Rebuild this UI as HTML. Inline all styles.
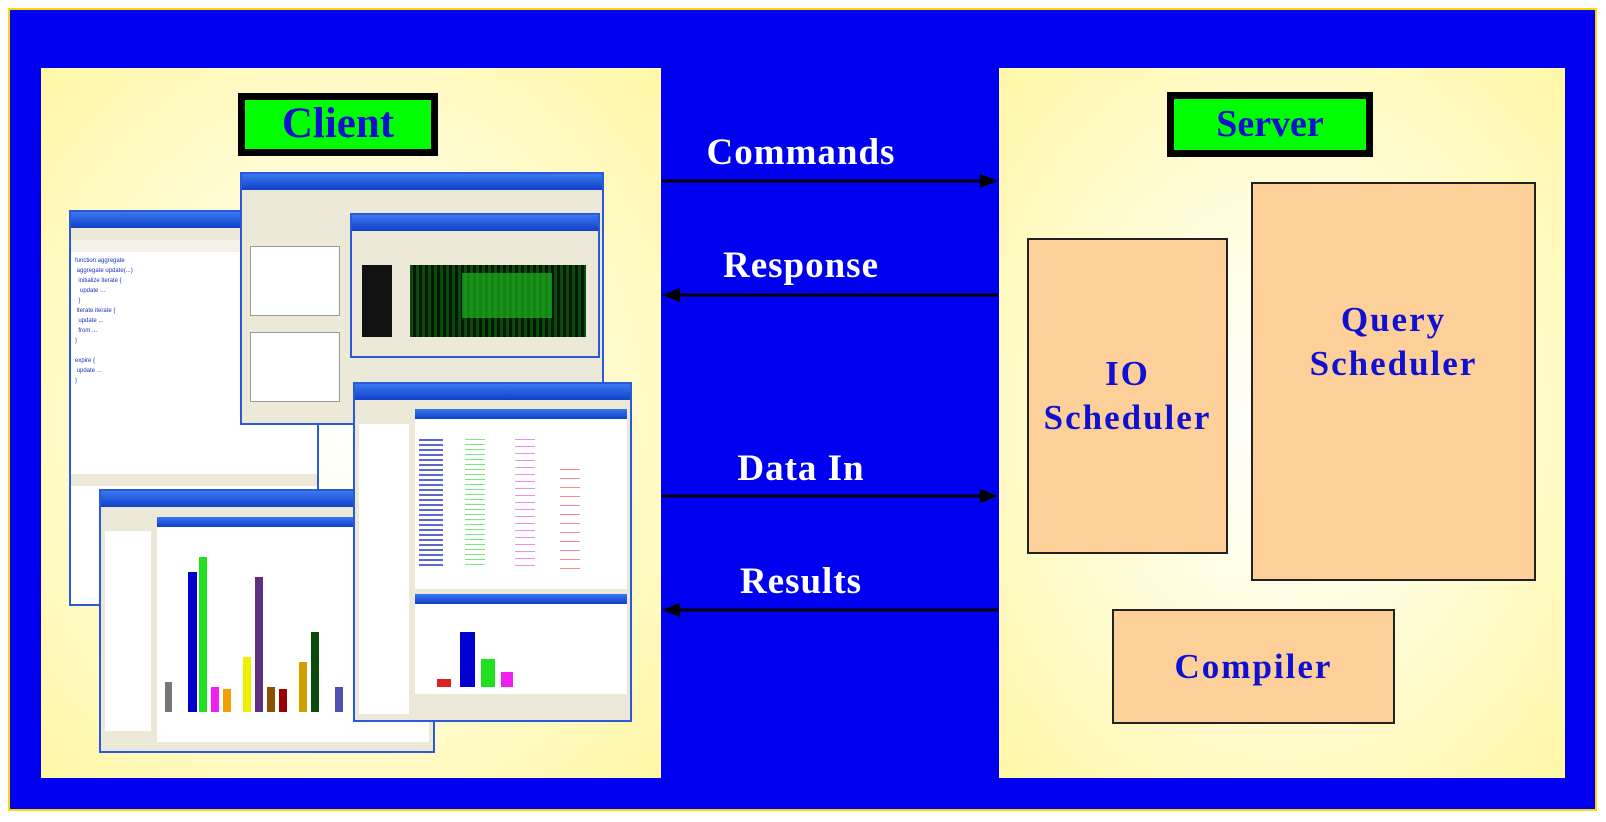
<!DOCTYPE html>
<html><head><meta charset="utf-8"><style>
*{margin:0;padding:0;box-sizing:border-box}
body{width:1606px;height:822px;background:#fff;position:relative;overflow:hidden;font-family:"Liberation Serif",serif}
.a{position:absolute}
.panel{background:radial-gradient(ellipse at 50% 50%,#ffffff 0%,#fffde0 40%,#fff7a6 100%)}
.lbl{background:#00ff00;border:7px solid #000;color:#1010d0;font-weight:bold;text-align:center}
.box{background:#fdd09a;border:2px solid #222;color:#1010d0;font-weight:bold;text-align:center;font-size:35px;letter-spacing:2px;line-height:44px;display:flex;align-items:center;justify-content:center}
.t{color:#fff;font-weight:bold;font-size:37px;letter-spacing:1px;width:340px;text-align:center;left:631px}
.win{background:#fff;border:2px solid #2a5ad8}
.tb{background:linear-gradient(#3a78f0,#1040c8);height:16px}
.mn{background:#ece9d8;height:12px}
</style></head><body>
<div class="a" style="left:8px;top:8px;width:1589px;height:803px;background:#ffd800"></div>
<div class="a" style="left:10px;top:10px;width:1585px;height:799px;background:#0000f0"></div>

<div class="a panel" style="left:41px;top:68px;width:620px;height:710px"></div>
<div class="a panel" style="left:999px;top:68px;width:566px;height:710px"></div>

<div class="a lbl" style="left:238px;top:93px;width:200px;height:63px;font-size:43px;line-height:48px">Client</div>
<div class="a lbl" style="left:1167px;top:92px;width:206px;height:65px;font-size:38px;line-height:50px">Server</div>

<div class="a box" style="left:1027px;top:238px;width:201px;height:316px">IO<br>Scheduler</div>
<div class="a box" style="left:1251px;top:182px;width:285px;height:399px;padding-bottom:80px">Query<br>Scheduler</div>
<div class="a box" style="left:1112px;top:609px;width:283px;height:115px">Compiler</div>

<div class="a t" style="top:131px">Commands</div>
<div class="a t" style="top:244px">Response</div>
<div class="a t" style="top:447px">Data In</div>
<div class="a t" style="top:560px">Results</div>

<svg class="a" style="left:0;top:0" width="1606" height="822">
<g stroke="#000" stroke-width="3" fill="#000">
<line x1="662" y1="181" x2="985" y2="181"/><polygon points="998,181 980,174 980,188" stroke="none"/>
<line x1="675" y1="295" x2="998" y2="295"/><polygon points="662,295 680,288 680,302" stroke="none"/>
<line x1="662" y1="496" x2="985" y2="496"/><polygon points="998,496 980,489 980,503" stroke="none"/>
<line x1="675" y1="610" x2="998" y2="610"/><polygon points="662,610 680,603 680,617" stroke="none"/>
</g></svg>

<div class="a win" style="left:69px;top:210px;width:250px;height:396px">
 <div class="tb"></div><div class="mn"></div><div class="mn" style="background:#f4f2e8"></div>
 <div style="padding:4px;font:6px 'Liberation Sans',sans-serif;color:#2030c0;line-height:10px">function aggregate<br>&nbsp;aggregate update(...)<br>&nbsp;&nbsp;initialize iterate {<br>&nbsp;&nbsp;&nbsp;update ...<br>&nbsp;&nbsp;}<br>&nbsp;iterate iterate {<br>&nbsp;&nbsp;update ...<br>&nbsp;&nbsp;from ...<br>}<br><br>expire {<br>&nbsp;update ...<br>}</div>
 <div class="a" style="left:0;top:262px;width:246px;height:12px;background:#ece9d8"></div>
</div>
<div class="a win" style="left:240px;top:172px;width:364px;height:253px;background:#ece9d8">
 <div class="tb"></div>
 <div class="a" style="left:8px;top:72px;width:90px;height:70px;background:#fff;border:1px solid #999"></div>
 <div class="a" style="left:8px;top:158px;width:90px;height:70px;background:#fff;border:1px solid #999"></div>
</div>
<div class="a win" style="left:350px;top:213px;width:250px;height:145px;background:#ece9d8">
 <div class="tb"></div>
 <div class="a" style="left:10px;top:50px;width:30px;height:72px;background:#111"></div>
 <div class="a" style="left:58px;top:50px;width:176px;height:72px;background:repeating-linear-gradient(90deg,#0a4a0a 0 3px,#001800 3px 6px)"></div>
 <div class="a" style="left:110px;top:58px;width:90px;height:45px;background:#20b020;opacity:.7"></div>
</div>
<div class="a win" style="left:99px;top:489px;width:336px;height:264px;background:#ece9d8">
 <div class="tb"></div>
 <div class="a" style="left:4px;top:40px;width:46px;height:200px;background:#fff"></div>
 <div class="a" style="left:56px;top:26px;width:272px;height:225px;background:#fff">
  <div class="tb" style="height:10px"></div>
  <svg width="272" height="215"><g>
  <rect x="8" y="155" width="7" height="30" fill="#777"/><rect x="31" y="45" width="9" height="140" fill="#0000d0"/>
  <rect x="42" y="30" width="8" height="155" fill="#20e020"/><rect x="54" y="160" width="8" height="25" fill="#f020f0"/>
  <rect x="66" y="162" width="8" height="23" fill="#f0a000"/><rect x="86" y="130" width="8" height="55" fill="#f0f000"/>
  <rect x="98" y="50" width="8" height="135" fill="#603080"/><rect x="110" y="160" width="8" height="25" fill="#8a5000"/>
  <rect x="122" y="162" width="8" height="23" fill="#900"/><rect x="142" y="135" width="8" height="50" fill="#d0a000"/>
  <rect x="154" y="105" width="8" height="80" fill="#0a4a0a"/><rect x="178" y="160" width="8" height="25" fill="#5050b0"/>
  </g></svg>
 </div>
</div>
<div class="a win" style="left:353px;top:382px;width:279px;height:340px;background:#ece9d8">
 <div class="tb"></div>
 <div class="a" style="left:4px;top:40px;width:50px;height:290px;background:#fff"></div>
 <div class="a" style="left:60px;top:25px;width:212px;height:180px;background:#fff">
  <div class="tb" style="height:10px"></div>
  <div class="a" style="left:4px;top:30px;width:24px;height:130px;background:repeating-linear-gradient(#3040d0 0 2px,#fff 2px 5px);opacity:.8"></div>
  <div class="a" style="left:50px;top:30px;width:20px;height:130px;background:repeating-linear-gradient(#40e040 0 1px,#fff 1px 5px);opacity:.7"></div>
  <div class="a" style="left:100px;top:30px;width:20px;height:130px;background:repeating-linear-gradient(#e040e0 0 1px,#fff 1px 7px);opacity:.6"></div>
  <div class="a" style="left:145px;top:60px;width:20px;height:100px;background:repeating-linear-gradient(#f04040 0 1px,#fff 1px 9px);opacity:.6"></div>
 </div>
 <div class="a" style="left:60px;top:210px;width:212px;height:100px;background:#fff">
  <div class="tb" style="height:10px"></div>
  <div class="a" style="left:45px;top:38px;width:15px;height:55px;background:#0000d0"></div>
  <div class="a" style="left:66px;top:65px;width:14px;height:28px;background:#20e020"></div>
  <div class="a" style="left:86px;top:78px;width:12px;height:15px;background:#f020f0"></div>
  <div class="a" style="left:22px;top:85px;width:14px;height:8px;background:#e02020"></div>
 </div>
</div>
</body></html>
